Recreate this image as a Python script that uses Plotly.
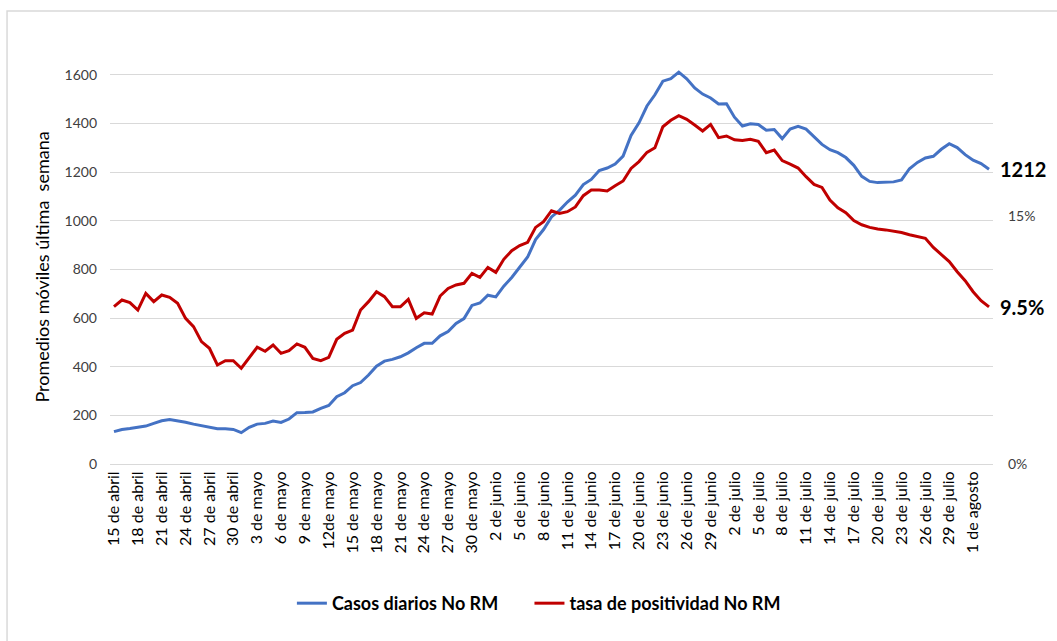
import plotly.graph_objects as go

# 15 de abril .. 3 de agosto (daily)
fechas_ticks = ["15 de abril", "18 de abril", "21 de abril", "24 de abril", "27 de abril", "30 de abril",
                "3 de mayo", "6 de mayo", "9 de mayo", "12de mayo", "15 de mayo", "18 de mayo",
                "21 de mayo", "24 de mayo", "27 de mayo", "30 de mayo", "2 de junio", "5 de junio",
                "8 de junio", "11 de junio", "14 de junio", "17 de junio", "20 de junio", "23 de junio",
                "26 de junio", "29 de junio", "2 de julio", "5 de julio", "8 de julio", "11 de julio",
                "14 de julio", "17 de julio", "20 de julio", "23 de julio", "26 de julio", "29 de julio",
                "1 de agosto"]

casos = [133, 142, 146, 151, 156, 167, 178, 183, 178, 172, 164, 157, 153, 145, 145, 142, 129, 151, 164, 167,
         177, 171, 185, 211, 212, 214, 229, 241, 277, 293, 322, 335, 366, 402, 423, 430, 441, 457, 478,
         496, 496, 527, 545, 578, 598, 652, 662, 694, 687, 731, 767, 810, 851, 923, 964, 1016, 1043, 1077, 1105,
         1149, 1170, 1207, 1217, 1233, 1266, 1351, 1403, 1472, 1518, 1574, 1584, 1611, 1584, 1546, 1521, 1505,
         1480, 1481, 1426, 1390,
         1399, 1396, 1372, 1375, 1338, 1377, 1388, 1377, 1344, 1314, 1292, 1280, 1260, 1228, 1183, 1162, 1157,
         1158, 1160, 1168,
         1214, 1240, 1258, 1265, 1294, 1317, 1301, 1272, 1249, 1235, 1212]

positividad = [9.52, 9.92, 9.76, 9.31, 10.32, 9.82, 10.22, 10.08, 9.72, 8.81, 8.31, 7.40, 7.00, 5.99, 6.25, 6.25,
               5.79, 6.39, 7.06, 6.82,
               7.20, 6.69, 6.85, 7.26, 7.06, 6.39, 6.25, 6.45, 7.54, 7.90, 8.10, 9.31, 9.82, 10.42, 10.12, 9.51,
               9.51, 9.96, 8.81,
               9.15, 9.07, 10.16, 10.62, 10.83, 10.93, 11.53, 11.29, 11.89, 11.59, 12.38, 12.90, 13.21, 13.41,
               14.31, 14.66, 15.32, 15.16, 15.26, 15.55,
               16.23, 16.57, 16.57, 16.51, 16.83, 17.12, 17.88, 18.29, 18.85, 19.13, 20.40, 20.79, 21.07, 20.85,
               20.50, 20.14, 20.54, 19.74, 19.84, 19.61, 19.57,
               19.64, 19.52, 18.83, 18.99, 18.35, 18.14, 17.90, 17.38, 16.91, 16.73, 15.97, 15.50, 15.20, 14.72,
               14.47, 14.31, 14.21, 14.16, 14.10, 14.00,
               13.87, 13.77, 13.65, 13.10, 12.70, 12.24, 11.63, 11.09, 10.42, 9.88, 9.5]

dias = list(range(len(casos)))
tick_pos = list(range(0, len(fechas_ticks) * 3, 3))

FONT = "Lato"
Y1_MAX = 1620
Y2_MAX = Y1_MAX * 15 / 1019.7
GAP = "\u00a0" * 6  # extra room between the two legend entries

fig = go.Figure()
fig.add_trace(go.Scatter(x=dias, y=casos, name="Casos diarios No RM" + GAP, mode="lines",
                         line=dict(color="#4472C4", width=3)))
fig.add_trace(go.Scatter(x=dias, y=positividad, name="tasa de positividad No RM", mode="lines",
                         line=dict(color="#C00000", width=3), yaxis="y2"))

fig.add_annotation(x=dias[-1], y=casos[-1], xref="x", yref="y", text="<b>1212</b>", showarrow=False,
                   xanchor="left", xshift=9, font=dict(family=FONT, size=20, color="#000000"))
fig.add_annotation(x=dias[-1], y=positividad[-1], xref="x", yref="y2", text="<b>9.5%</b>", showarrow=False,
                   xanchor="left", xshift=9, font=dict(family=FONT, size=20, color="#000000"))

# chart border
fig.add_shape(type="rect", xref="paper", yref="paper", x0=-0.1166, x1=1.3, y0=-0.8, y1=1.1496,
              line=dict(color="#D9D9D9", width=1.5), layer="below")

fig.update_layout(
    width=1057, height=641,
    margin=dict(l=110, r=64, t=70, b=177),
    plot_bgcolor="white", paper_bgcolor="white",
    font=dict(family=FONT, size=14, color="#404040"),
    showlegend=True,
    legend=dict(orientation="h", x=0.206, xanchor="left", y=-0.354, yanchor="middle",
                font=dict(family=FONT, size=18, color="#000000", weight="bold"),
                itemwidth=30, tracegroupgap=0),
    xaxis=dict(range=[-0.5, len(casos) - 0.5], tickmode="array", tickvals=tick_pos, ticktext=fechas_ticks,
               tickangle=-90, showgrid=False, zeroline=False, showline=True, linecolor="#D9D9D9",
               ticks="", tickfont=dict(family=FONT, size=16, color="#000000")),
    yaxis=dict(range=[0, Y1_MAX], tickvals=[0, 200, 400, 600, 800, 1000, 1200, 1400, 1600],
               showgrid=True, gridcolor="#D9D9D9", zeroline=False, ticks="", ticklabelstandoff=12,
               tickfont=dict(family=FONT, size=14, color="#404040"),
               title=dict(text="Promedios móviles última  semana", standoff=10,
                          font=dict(family=FONT, size=18, color="#000000"))),
    yaxis2=dict(range=[0, Y2_MAX], overlaying="y", side="right", tickmode="array", tickvals=[0, 15],
                ticktext=["0%", "15%"], showgrid=False, zeroline=False, ticks="", ticklabelstandoff=14,
                tickfont=dict(family=FONT, size=14, color="#404040")),
)

fig.write_html("out.html", config={"displayModeBar": False},
               post_script="document.body.style.margin='0';")
